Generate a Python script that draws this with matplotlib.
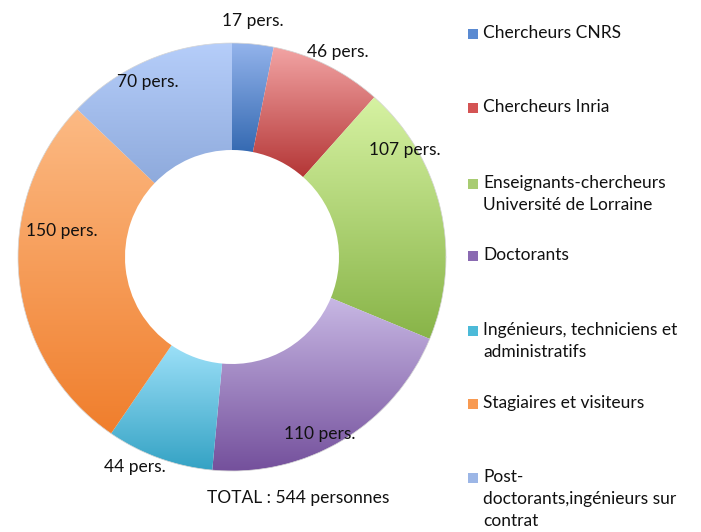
import numpy as np
import matplotlib
matplotlib.use('Agg')
import matplotlib.pyplot as plt
from matplotlib.colors import to_rgb
from matplotlib.patches import Rectangle

plt.rcParams['font.family'] = ['Lato', 'DejaVu Sans']

categories = ["Chercheurs CNRS", "Chercheurs Inria", "Enseignants-chercheurs\nUniversité de Lorraine",
              "Doctorants", "Ingénieurs, techniciens et\nadministratifs", "Stagiaires et visiteurs",
              "Post-\ndoctorants,ingénieurs sur\ncontrat"]
values = [17, 46, 107, 110, 44, 150, 70]
labels = ["%d pers." % v for v in values]
total_label = "TOTAL : %d personnes" % sum(values)

# top / bottom colours of the vertical gradient in each wedge
top_cols = ['#94b4ec', '#f2a4a4', '#d6f2a2', '#c8b8e4', '#9ce0f8', '#fcba84', '#b6cefa']
bot_cols = ['#356ab2', '#b43636', '#88b448', '#74509c', '#34a2c4', '#f07e2c', '#8eaadc']
legend_cols = ['#5a8ad2', '#d45454', '#a8cc72', '#8a6ab2', '#4cbad8', '#f89a52', '#9cb6e6']

W, H = 701, 532
fig = plt.figure(figsize=(W/100, H/100), dpi=100)
ax = fig.add_axes([0, 0, 1, 1])
cx, cy, R = 232, H-257, 214
FS = 12.5

wedges, _ = ax.pie(values, radius=R, center=(cx, cy), startangle=90, counterclock=False,
                   wedgeprops=dict(width=R/2, linewidth=0), frame=True)
for w, c0, c1 in zip(wedges, top_cols, bot_cols):
    w.set_facecolor('none')
    bb = w.get_path().get_extents()
    t = np.linspace(0, 1, 256)[:, None, None]
    img = (1-t)*np.array(to_rgb(c0)) + t*np.array(to_rgb(c1))
    im = ax.imshow(img, extent=(bb.x0, bb.x1, bb.y0, bb.y1), origin='upper', aspect='auto',
                   interpolation='bilinear', zorder=1)
    im.set_clip_path(w)

# faint outline like the original's soft shadow
th = np.linspace(0, 2*np.pi, 400)
ax.plot(cx+R*np.cos(th), cy+R*np.sin(th), color='#d4d4d4', lw=0.5, zorder=2)

# value labels (image pixel positions)
lab_pos = [(253, 21), (338, 52), (405, 150), (320, 434), (135, 467), (62, 231), (148, 82)]
for (x, y), s in zip(lab_pos, labels):
    ax.text(x, H-y, s, ha='center', va='center', fontsize=FS, color='#111111', zorder=3)
ax.text(298, H-498, total_label, ha='center', va='center', fontsize=FS, color='#111111')

# legend
leg_y = [33, 107, 183, 255, 330, 403, 477]
for y, name, c in zip(leg_y, categories, legend_cols):
    ax.add_patch(Rectangle((468, H-y-6), 10, 10, facecolor=c, edgecolor='none'))
    for k, line in enumerate(name.split("\n")):
        ax.text(483, H-y-22*k, line, ha='left', va='center', fontsize=FS, color='#111111')

ax.set_xlim(0, W)
ax.set_ylim(0, H)
ax.set_aspect('auto')
ax.axis('off')
fig.savefig('out.png', dpi=100)
